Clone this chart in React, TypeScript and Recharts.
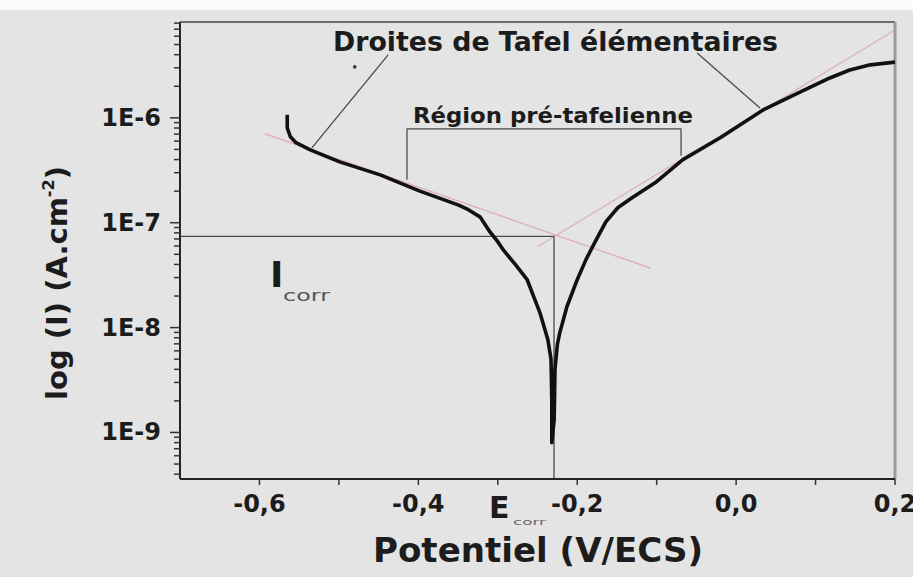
import React from "react";
import { LineChart, Line, XAxis, YAxis, ReferenceLine, ReferenceDot } from "recharts";

// Polarisation curve: potential (V/ECS) and current density (A/cm²)
const potential = [
  -0.565, -0.565, -0.561, -0.554, -0.536, -0.499, -0.448, -0.398, -0.35, -0.337,
  -0.322, -0.31, -0.301, -0.293, -0.278, -0.263, -0.247, -0.237, -0.233, -0.232, -0.232,
  -0.229, -0.228, -0.225, -0.222, -0.213, -0.2, -0.189, -0.176, -0.164, -0.149, -0.131,
  -0.102, -0.067, -0.02, 0.034, 0.081, 0.118, 0.143, 0.169, 0.2,
];
const current = [
  1.07e-6, 8.0e-7, 6.6e-7, 5.8e-7, 4.95e-7, 3.8e-7, 2.86e-7, 2.0e-7, 1.48e-7, 1.33e-7,
  1.13e-7, 8.2e-8, 6.75e-8, 5.5e-8, 4.0e-8, 2.86e-8, 1.39e-8, 7.7e-9, 5.0e-9, 2.06e-9, 8.0e-10,
  1.33e-9, 4.0e-9, 6.9e-9, 8.9e-9, 1.58e-8, 2.86e-8, 4.45e-8, 6.9e-8, 1.02e-7, 1.39e-7, 1.73e-7,
  2.4e-7, 4.0e-7, 6.45e-7, 1.19e-6, 1.77e-6, 2.4e-6, 2.86e-6, 3.2e-6, 3.4e-6,
];

// corrosion point
const E_CORR = -0.2292;
const I_CORR = 7.4e-8;

// Tafel straight lines [E, I] endpoints
const cathodicTafel = [
  [-0.593, 7.05e-7],
  [-0.108, 3.7e-8],
];
const anodicTafel = [
  [-0.25, 5.9e-8],
  [0.2, 6.88e-6],
];

// annotation pointers and the bracket over the pre-Tafel region
const leftPointer = [
  [-0.438, 3.98e-6],
  [-0.534, 5.18e-7],
];
const rightPointer = [
  [-0.049, 4.16e-6],
  [0.03, 1.24e-6],
];
const bracket = [
  [-0.4143, 2.57e-7],
  [-0.4143, 7.86e-7],
  [-0.0693, 7.86e-7],
  [-0.0693, 4.35e-7],
];

const X_DOMAIN: [number, number] = [-0.7, 0.2];
const Y_DOMAIN: [number, number] = [3.6e-10, 8.2e-6];
const X_TICKS = [-0.6, -0.5, -0.4, -0.3, -0.2, -0.1, 0, 0.1, 0.2];
const X_LABELED = [-0.6, -0.4, -0.2, 0, 0.2];
const Y_MAJOR = [1e-9, 1e-8, 1e-7, 1e-6];
const MINOR_STEPS = [2, 3, 4, 5, 6, 7, 8, 9];

const W = 913;
const H = 577;
const PLOT_LEFT = 180;
const PLOT_RIGHT = 895;
const PLOT_TOP = 22;
const PLOT_BOTTOM = 479;
const Y_AXIS_W = 60;
const X_AXIS_H = 40;

const FONT = "'DejaVu Sans', Verdana, sans-serif";
const INK = "#1c1c1c";
const BG = "#e4e4e4";

const yTicks = [
  ...[1e-10, ...Y_MAJOR].flatMap((d) => MINOR_STEPS.map((m) => m * d)),
  ...Y_MAJOR,
].filter((v) => v >= Y_DOMAIN[0] && v <= Y_DOMAIN[1]);

const data = potential.map((E, i) => ({ E, I: current[i] }));

const seg = (pts: number[][], i: number) => [
  { x: pts[i][0], y: pts[i][1] },
  { x: pts[i + 1][0], y: pts[i + 1][1] },
];

function YTick(props: any) {
  const { y, payload } = props;
  const exp = Math.log10(payload.value);
  const major = Math.abs(exp - Math.round(exp)) < 1e-6;
  return (
    <g>
      <line
        x1={PLOT_LEFT - (major ? 10 : 6)}
        x2={PLOT_LEFT}
        y1={y}
        y2={y}
        stroke="#333"
        strokeWidth={1.5}
      />
      {major && (
        <text
          x={PLOT_LEFT - 19}
          y={y + 8}
          textAnchor="end"
          fontFamily={FONT}
          fontWeight="bold"
          fontSize={24}
          fill={INK}
        >
          {`1E${Math.round(exp)}`}
        </text>
      )}
    </g>
  );
}

function XTick(props: any) {
  const { x, payload } = props;
  const v = payload.value;
  const labeled = X_LABELED.some((t) => Math.abs(t - v) < 1e-9);
  return (
    <g>
      <line x1={x} x2={x} y1={PLOT_BOTTOM} y2={PLOT_BOTTOM + 6} stroke="#333" strokeWidth={1.5} />
      {labeled && (
        <text
          x={x}
          y={PLOT_BOTTOM + 33}
          textAnchor="middle"
          fontFamily={FONT}
          fontWeight="bold"
          fontSize={24}
          fill={INK}
        >
          {v.toFixed(1).replace(".", ",")}
        </text>
      )}
    </g>
  );
}

export default function App() {
  const annot = { stroke: "#4a4a4a", strokeWidth: 1.3 };
  const tafel = { stroke: "#d9a3ab", strokeWidth: 1.4, strokeOpacity: 0.75 };

  return (
    <div style={{ position: "absolute", left: 0, top: 0, width: W, height: H, background: BG }}>
      <div style={{ position: "absolute", left: 0, top: 0, width: W, height: 10, background: "#fbfbfb" }} />
      <LineChart
        width={W}
        height={H}
        data={data}
        margin={{
          top: PLOT_TOP,
          right: W - PLOT_RIGHT,
          bottom: H - PLOT_BOTTOM - X_AXIS_H,
          left: PLOT_LEFT - Y_AXIS_W,
        }}
      >
        <XAxis
          dataKey="E"
          type="number"
          domain={X_DOMAIN}
          allowDataOverflow
          ticks={X_TICKS}
          interval={0}
          tick={(p: any) => <XTick {...p} />}
          tickLine={false}
          height={X_AXIS_H}
          axisLine={{ stroke: "#222", strokeWidth: 2 }}
        />
        <YAxis
          type="number"
          scale="log"
          domain={Y_DOMAIN}
          allowDataOverflow
          ticks={yTicks}
          interval={0}
          tick={(p: any) => <YTick {...p} />}
          tickLine={false}
          width={Y_AXIS_W}
          axisLine={{ stroke: "#222", strokeWidth: 2 }}
        />

        {/* Tafel lines */}
        <ReferenceLine segment={seg(cathodicTafel, 0)} {...tafel} />
        <ReferenceLine segment={seg(anodicTafel, 0)} {...tafel} />

        {/* I_corr / E_corr construction */}
        <ReferenceLine segment={[{ x: X_DOMAIN[0], y: I_CORR }, { x: E_CORR, y: I_CORR }]} {...annot} />
        <ReferenceLine segment={[{ x: E_CORR, y: I_CORR }, { x: E_CORR, y: Y_DOMAIN[0] }]} {...annot} />

        {/* pointers and bracket */}
        <ReferenceLine segment={seg(leftPointer, 0)} {...annot} />
        <ReferenceLine segment={seg(rightPointer, 0)} {...annot} />
        {bracket.slice(0, -1).map((_, i) => (
          <ReferenceLine key={i} segment={seg(bracket, i)} {...annot} />
        ))}
        <ReferenceDot x={-0.48} y={3.06e-6} r={1.8} fill="#333" stroke="none" />

        {/* plot frame: top and right edges */}
        <ReferenceLine y={Y_DOMAIN[1]} stroke="#444" strokeWidth={1.5} />
        <ReferenceLine x={X_DOMAIN[1]} stroke="#9c9c9c" strokeWidth={3} />

        <Line
          dataKey="I"
          type="linear"
          stroke="#111"
          strokeWidth={3.6}
          strokeLinejoin="round"
          dot={false}
          isAnimationActive={false}
        />
      </LineChart>

      <svg
        width={W}
        height={H}
        style={{ position: "absolute", left: 0, top: 0, pointerEvents: "none" }}
        fontFamily={FONT}
        fill={INK}
      >
        <text x={333} y={51} fontSize={27} fontWeight="bold" textLength={445} lengthAdjust="spacingAndGlyphs">
          Droites de Tafel élémentaires
        </text>
        <text x={413} y={123} fontSize={22} fontWeight="bold" textLength={280} lengthAdjust="spacingAndGlyphs">
          Région pré-tafelienne
        </text>
        <text x={270} y={287} fontSize={36} fontWeight="bold">
          I
        </text>
        <text x={283} y={301} fontSize={15} fill="#555" textLength={47} lengthAdjust="spacingAndGlyphs">
          corr
        </text>
        <text x={489} y={518} fontSize={30} fontWeight="bold">
          E
        </text>
        <text x={513} y={525} fontSize={9} fill="#666" textLength={33} lengthAdjust="spacingAndGlyphs">
          corr
        </text>
        <text x={373} y={562} fontSize={33} fontWeight="bold" textLength={330} lengthAdjust="spacingAndGlyphs">
          Potentiel (V/ECS)
        </text>
        <text
          transform="translate(67,283) rotate(-90)"
          textAnchor="middle"
          fontSize={29}
          fontWeight="bold"
        >
          log (I) (A.cm<tspan fontSize={16} dy={-13}>-2</tspan>
          <tspan dy={13}>)</tspan>
        </text>
      </svg>
    </div>
  );
}
